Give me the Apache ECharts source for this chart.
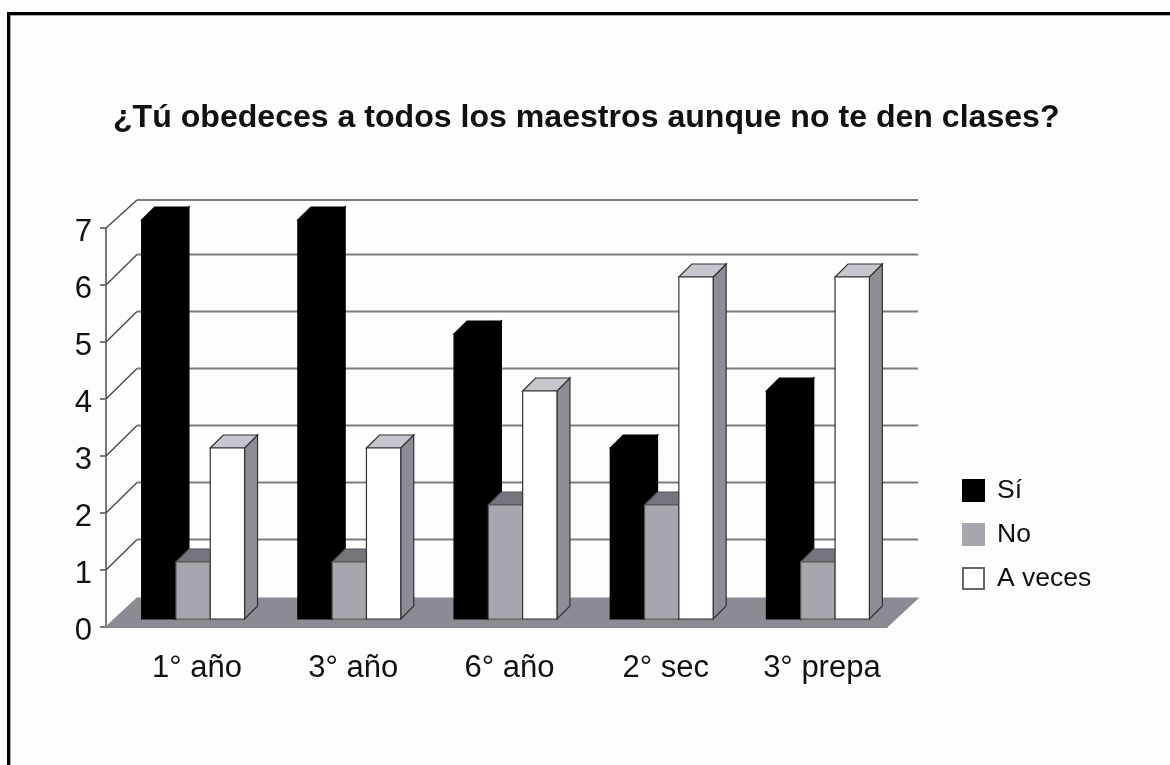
<!DOCTYPE html>
<html>
<head>
<meta charset="utf-8">
<title>¿Tú obedeces a todos los maestros aunque no te den clases?</title>
<script src="https://cdn.jsdelivr.net/npm/echarts@6/dist/echarts.min.js"></script>
<style>
  html, body { margin: 0; padding: 0; background: #fdfdfd; overflow: hidden; }
  #frame {
    position: absolute; left: 7px; top: 12px; width: 1200px; height: 800px;
    border-left: 3px solid #000; border-top: 3px solid #000;
    box-shadow: inset 1px 1px 0 #aaa; box-sizing: border-box;
  }
  #chart { position: absolute; left: 0; top: 0; width: 1170px; height: 765px; }
</style>
</head>
<body>
<div id="frame"></div>
<div id="chart"></div>
<script>
const titleText = '¿Tú obedeces a todos los maestros aunque no te den clases?'
const categories = ['1° año', '3° año', '6° año', '2° sec', '3° prepa']
const siValues = [7, 7, 5, 3, 4]
const noValues = [1, 1, 2, 2, 1]
const aVecesValues = [3, 3, 4, 6, 6]
const gridValues = [1, 2, 3, 4, 5, 6, 7]

// depth of the fake 3d box, in px
const WALL_DX = 31
const WALL_DY = -30.5
const WALL_TOP_DY = -28
const FLOOR_DY = -29
const FRONT_DX = 9
const FRONT_DY = -8
const BAR_DX = 13
const BAR_DY = -13
const BAR_WIDTH = 34.3
const FONT = '"Liberation Sans", Arial, sans-serif'

const chart = echarts.init(document.getElementById('chart'))

const poly = (points, fill, stroke) => ({
  type: 'polygon',
  shape: { points },
  style: { fill, stroke: stroke || fill, lineWidth: 1.2 },
})

const renderWallLine = (params, api) => {
  const coordSys = params.coordSys
  const value = api.value(1)
  const [, y] = api.coord([0, value])
  const left = coordSys.x
  const right = coordSys.x + coordSys.width
  const dy = value === 7 ? WALL_TOP_DY : WALL_DY
  return {
    type: 'group',
    children: [
      { type: 'line', shape: { x1: left, y1: y, x2: left + WALL_DX, y2: y + dy }, style: { stroke: '#444', lineWidth: 1.3 } },
      { type: 'line', shape: { x1: left + WALL_DX, y1: y + dy, x2: right + WALL_DX, y2: y + dy }, style: { stroke: '#7c7c7c', lineWidth: 2 } },
    ],
  }
}

const renderFloor = (params, api) => {
  const coordSys = params.coordSys
  const [, y] = api.coord([0, 0])
  const left = coordSys.x
  const right = coordSys.x + coordSys.width
  return poly([
    [left, y],
    [left + WALL_DX, y + FLOOR_DY],
    [right + WALL_DX, y + FLOOR_DY],
    [right, y],
  ], '#8a8b93')
}

const makeBarRenderer = (slot, front, top, side, stroke) => (params, api) => {
  const idx = api.value(0)
  const tip = api.coord([idx, api.value(1)])
  const base = api.coord([idx, 0])
  const x0 = tip[0] - BAR_WIDTH * 1.5 + BAR_WIDTH * slot + FRONT_DX
  const x1 = x0 + BAR_WIDTH
  const yTop = tip[1] + FRONT_DY
  const yBase = base[1] + FRONT_DY
  return {
    type: 'group',
    children: [
      poly([[x1, yTop], [x1 + BAR_DX, yTop + BAR_DY], [x1 + BAR_DX, yBase + BAR_DY], [x1, yBase]], side, stroke),
      poly([[x0, yTop], [x0 + BAR_DX, yTop + BAR_DY], [x1 + BAR_DX, yTop + BAR_DY], [x1, yTop]], top, stroke),
      poly([[x0, yTop], [x1, yTop], [x1, yBase], [x0, yBase]], front, stroke),
    ],
  }
}

const barSeries = (name, values, slot, front, top, side, stroke, legendBorder) => ({
  name,
  type: 'custom',
  coordinateSystem: 'cartesian2d',
  encode: { x: 0, y: 1 },
  data: values.map((v, i) => [i, v]),
  itemStyle: { color: front, borderColor: legendBorder, borderWidth: 1.5 },
  renderItem: makeBarRenderer(slot, front, top, side, stroke),
})

chart.setOption({
  animation: false,
  backgroundColor: 'transparent',
  textStyle: { fontFamily: FONT },
  title: {
    text: titleText,
    left: 108,
    top: 97,
    textStyle: { color: '#111', fontSize: 32.1, fontWeight: 'bold', fontFamily: FONT },
  },
  legend: {
    orient: 'vertical',
    left: 957,
    top: 472,
    itemWidth: 21,
    itemHeight: 21,
    itemGap: 17,
    icon: 'rect',
    data: ['Sí', 'No', 'A veces'],
    textStyle: { color: '#111', fontSize: 26.5, lineHeight: 21, padding: [2, 0, 0, 8] },
  },
  grid: { left: 106, right: 283, top: 228, bottom: 138 },
  xAxis: {
    type: 'category',
    data: categories,
    axisLine: { lineStyle: { color: '#555', width: 1.5 } },
    axisTick: { length: 8, lineStyle: { color: '#666', width: 1.5 } },
    axisLabel: { color: '#111', fontSize: 31, margin: 26, padding: [0, 0, 0, 26] },
  },
  yAxis: {
    type: 'value',
    min: 0,
    max: 7,
    interval: 1,
    splitLine: { show: false },
    axisLine: { show: true, lineStyle: { color: '#777', width: 2 } },
    axisTick: { show: true, length: 6, lineStyle: { color: '#777', width: 2 } },
    // labels sit a few px below their ticks in the original
    axisLabel: { color: '#111', fontSize: 31, margin: 14, verticalAlign: 'top', lineHeight: 8 },
  },
  series: [
    { type: 'custom', name: 'wall', encode: { x: 0, y: 1 }, data: gridValues.map((v) => [0, v]), renderItem: renderWallLine, silent: true },
    { type: 'custom', name: 'floor', encode: { x: 0, y: 1 }, data: [[0, 0]], renderItem: renderFloor, silent: true },
    barSeries('Sí', siValues, 0, '#000', '#000', '#000', '#000', '#000'),
    barSeries('No', noValues, 1, '#a5a6ae', '#74757d', '#74757d', '#555', '#a5a6ae'),
    barSeries('A veces', aVecesValues, 2, '#fff', '#c5c6ce', '#8c8d97', '#333', '#666'),
  ],
})
</script>
</body>
</html>
